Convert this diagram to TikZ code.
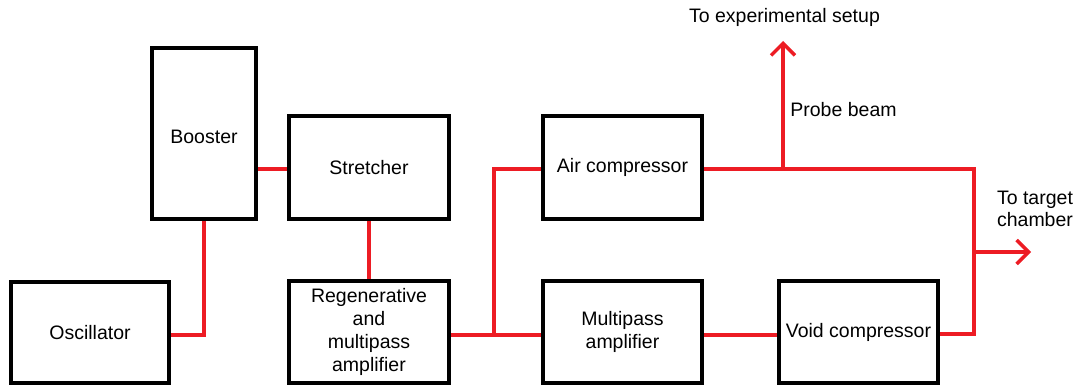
\documentclass[tikz,border=0pt]{standalone}
\usepackage{fontspec}
\setmainfont{Liberation Sans}
\usetikzlibrary{arrows.meta}
\definecolor{beam}{RGB}{237,28,36}
\begin{document}
\begin{tikzpicture}[x=0.5pt,y=-0.5pt,
  txt/.style={font=\fontsize{9.75}{11.35}\selectfont},
  box/.style={txt, draw=black, line width=2pt, fill=white, inner sep=0pt, align=center},
  beamline/.style={draw=beam, line width=1.75pt},
  lbl/.style={txt, inner sep=0pt, align=center},
  barb/.style={-{Straight Barb[length=6pt,width=12pt,line width=1.75pt]}}]
\useasboundingbox (0,0) rectangle (1078,385);
% boxes (line-centre geometry)
\node[box, minimum width=52pt,   minimum height=85.5pt, text height=10pt] (booster) at (204,133.5) {Booster};
\node[box, minimum width=79pt,   minimum height=50.5pt] (osc)     at (90,332.5)  {Oscillator};
\node[box, minimum width=80pt,   minimum height=51.5pt] (stretch) at (369,167.5) {Stretcher};
\node[box, minimum width=80pt,   minimum height=51pt]   (regen)   at (369,332)   {Regenerative\\and\\multipass\\amplifier};
\node[box, minimum width=79.5pt, minimum height=51.5pt] (air)     at (622.5,167.5) {Air compressor};
\node[box, minimum width=79.5pt, minimum height=51pt]   (multi)   at (622.5,332) {Multipass\\amplifier};
\node[box, minimum width=79.5pt, minimum height=51pt]   (void)    at (858.5,332) {Void compressor};
% labels
\node[lbl] (lexp) at (784.5,17) {To experimental setup};
\node[lbl, anchor=west] (lprobe) at (790,110) {Probe beam};
\node[lbl] (ltarget) at (1035,209) {To target\\chamber};
% junction coordinates
\coordinate (j1) at (494,335);
\coordinate (j2) at (494,169);
\coordinate (j3) at (974,169);
\coordinate (j4) at (974,334);
\coordinate (pb) at (783,169);
\coordinate (pt) at (783,41);
\coordinate (tb) at (974,252);
\coordinate (tt) at (1031,252);
% beam connectors
\draw[beamline] (booster.east |- j2) -- (stretch.west |- j2);
\draw[beamline] (booster.south) |- (osc.east |- j1);
\draw[beamline] (stretch.south) -- (regen.north);
\draw[beamline] (regen.east |- j1) -- (multi.west |- j1);
\draw[beamline] (j1) -- (j2) -- (air.west |- j2);
\draw[beamline] (multi.east |- j1) -- (void.west |- j1);
\draw[beamline] (air.east |- j3) -- (j3) -- (j4) -- (void.east |- j4);
\draw[beamline, barb] (pb) -- (pt);
\draw[beamline, barb] (tb) -- (tt);
\end{tikzpicture}
\end{document}
